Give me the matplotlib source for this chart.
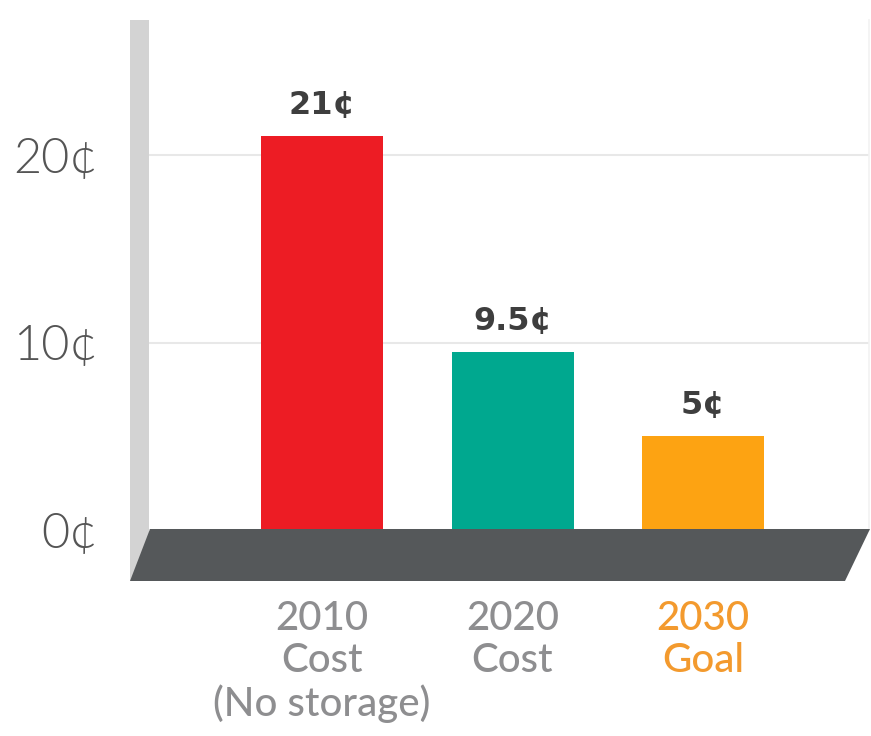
import matplotlib
matplotlib.use("Agg")
import matplotlib.pyplot as plt
import matplotlib.transforms as mtransforms
from matplotlib.patches import Polygon, Rectangle

# Cost per kWh, in cents
categories = ["2010\nCost\n(No storage)", "2020\nCost", "2030\nGoal"]
costs = [21, 9.5, 5]
value_labels = ["21¢", "9.5¢", "5¢"]
bar_colors = ["#ED1C24", "#00A88F", "#FDA312"]
category_colors = ["#8E8E90", "#8E8E90", "#F39A2E"]
y_ticks = [0, 10, 20]
y_tick_labels = ["0¢", "10¢", "20¢"]

W, H = 871, 736
fig = plt.figure(figsize=(W / 100, H / 100), dpi=100)
fig.patch.set_facecolor("white")


def fx(x):
    return x / W


def fy(y):
    return 1 - y / H


ax = fig.add_axes([fx(149), fy(530), fx(869) - fx(149), fy(20) - fy(530)])
ax.set_facecolor("none")
ax.set_ylim(0, 510 / 18.75)
ax.set_xlim(-0.907, 2.870)

x = list(range(len(costs)))
ax.bar(x, costs, width=0.64, color=bar_colors, zorder=2)

# value labels above bars
for xi, v, txt in zip(x, costs, value_labels):
    ax.annotate(txt, (xi, v), xytext=(0, 16), textcoords="offset points",
                ha="center", va="baseline", fontsize=23,
                fontfamily="DejaVu Sans", fontweight="bold",
                color="#3E3E3E", zorder=3)

# y axis: ticks, labels and light gridlines
ax.set_yticks(y_ticks)
ax.set_yticklabels(y_tick_labels, fontfamily="Lato", fontweight=300,
                   fontsize=35, color="#555555")
ax.tick_params(axis="y", length=0, pad=37)
ax.set_xticks([])
ax.yaxis.grid(True, color="#E8E8E8", linewidth=1.5)
ax.set_axisbelow(True)
for side in ["top", "left", "bottom"]:
    ax.spines[side].set_visible(False)
ax.spines["right"].set_color("#F2F2F2")
ax.spines["right"].set_linewidth(1.2)

# category labels under the floor
lab_tr = mtransforms.blended_transform_factory(ax.transData, fig.transFigure)
for xi, lab, col in zip(x, categories, category_colors):
    ax.text(xi, fy(600), lab, transform=lab_tr, ha="center", va="top",
            fontsize=29, fontfamily="Lato", fontweight="medium",
            linespacing=1.17, color=col)

# back wall and floor slab
wall = Rectangle((fx(130), fy(581)), fx(149) - fx(130), fy(20) - fy(581),
                 transform=fig.transFigure, facecolor="#D3D3D3",
                 edgecolor="none", zorder=-1)
fig.add_artist(wall)
floor = Polygon([(fx(150), fy(529)), (fx(870), fy(529)),
                 (fx(845), fy(581)), (fx(130), fy(581))],
                closed=True, transform=fig.transFigure,
                facecolor="#55585A", edgecolor="none", zorder=5)
fig.add_artist(floor)

fig.savefig("out.png", dpi=100, facecolor="white")
